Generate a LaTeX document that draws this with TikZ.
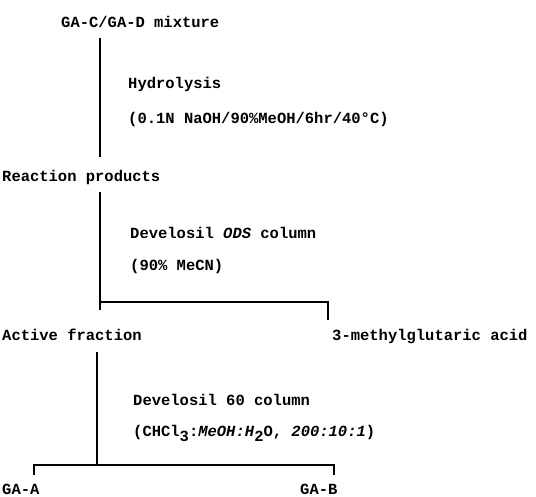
\documentclass[tikz,border=0pt]{standalone}
\usepackage{fontspec}
\setmainfont{Liberation Mono}
\begin{document}
\begin{tikzpicture}[x=1pt,y=-1pt,
  lbl/.style={inner sep=0pt, anchor=base west, font=\fontsize{15.5}{18}\selectfont\bfseries},
  conn/.style={line width=1.4pt}]
\useasboundingbox (0,0) rectangle (536,496);
\node[lbl] (mix) at (61,27) {GA-C/GA-D mixture};
\node[lbl] (hyd) at (128,88) {Hydrolysis};
\node[lbl] (cond1) at (128,123) {(0.1N NaOH/90\%MeOH/6hr/40°C)};
\node[lbl] (react) at (2,181) {Reaction products};
\node[lbl] (ods) at (130,238) {Develosil \textit{ODS} column};
\node[lbl] (cond2) at (130,270) {(90\% MeCN)};
\node[lbl] (active) at (2,340) {Active fraction};
\node[lbl] (mga) at (332,340) {3-methylglutaric acid};
\node[lbl] (d60) at (133,405) {Develosil 60 column};
\node[lbl] (cond3) at (133,436) {(CHCl\raisebox{-5pt}{3}:\textit{MeOH:H}\raisebox{-5pt}{2}O, \textit{200:10:1})};
\node[lbl] (gaa) at (2,494) {GA-A};
\node[lbl] (gab) at (300,494) {GA-B};
% step 1
\coordinate (a1) at (100,38);
\coordinate (a2) at (100,157);
\draw[conn] (a1) -- (a2);
% step 2
\coordinate (b1) at (100,192);
\coordinate (b2) at (100,302);
\coordinate (b3) at (100,310);
\coordinate (b4) at (328,302);
\coordinate (b5) at (328,320);
\draw[conn] (b1) -- (b2);
\draw[conn] (b3) -- (b2) -- (b4) -- (b5);
% step 3
\coordinate (c1) at (97,352);
\coordinate (c2) at (97,465);
\coordinate (c3) at (34,475);
\coordinate (c4) at (34,465);
\coordinate (c5) at (334,465);
\coordinate (c6) at (334,475);
\draw[conn] (c1) -- (c2);
\draw[conn] (c3) -- (c4) -- (c5) -- (c6);
\end{tikzpicture}
\end{document}
